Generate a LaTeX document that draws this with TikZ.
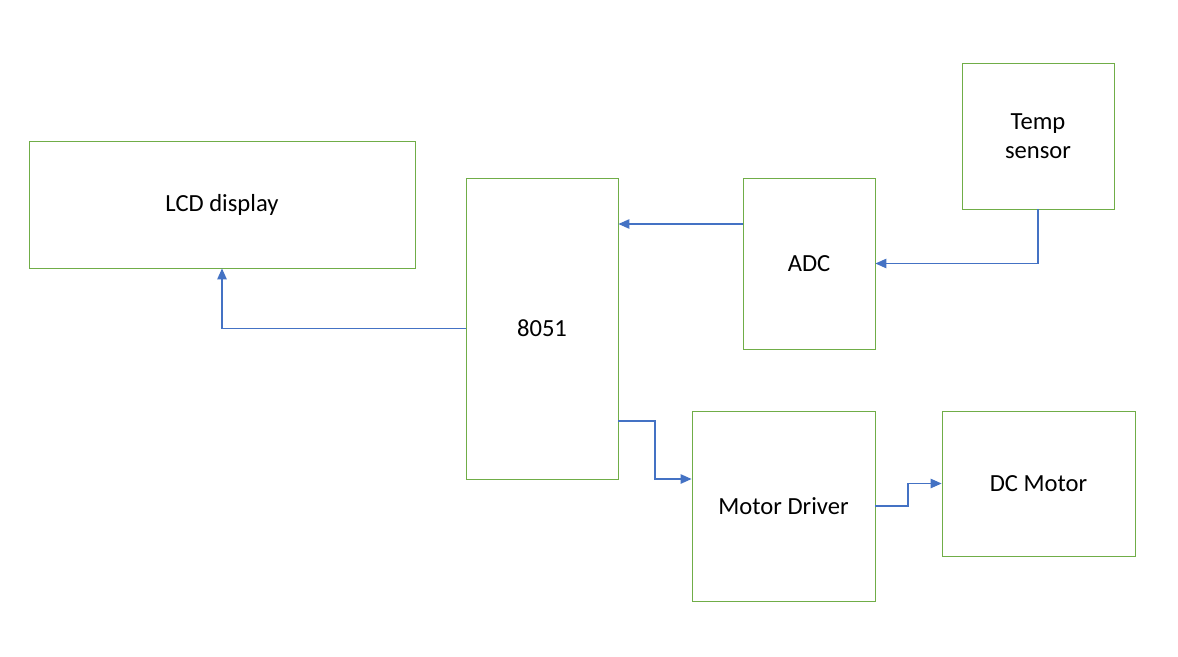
\documentclass[tikz,border=0pt]{standalone}
\usepackage{fontspec}
\setmainfont{Carlito}
\usetikzlibrary{arrows.meta,positioning,calc}
\definecolor{frame}{HTML}{70AD47}
\definecolor{wire}{HTML}{4472C4}
\definecolor{ink}{HTML}{000000}
\tikzset{
  blockbox/.style={draw=frame,fill=white,line width=0.5pt,align=center,font=\fontsize{14}{16.5}\selectfont,text=ink,inner sep=0pt},
  flow/.style={-{Triangle[length=2.2mm,width=1.9mm]},line width=0.7pt,draw=wire}
}

\begin{document}
\begin{tikzpicture}
    \useasboundingbox[fill=white] (0,0) rectangle (23.56,-13.14);

    \node[blockbox,minimum width=7.72cm,minimum height=2.54cm] (lcd) at (4.44,-4.09) {LCD display};
    \node[blockbox,minimum width=3.04cm,minimum height=6.02cm] (mcu) at (10.84,-6.57) {8051};
    \node[blockbox,minimum width=2.64cm,minimum height=3.42cm] (adc) at (16.18,-5.27) {ADC};
    \node[blockbox,minimum width=3.04cm,minimum height=2.92cm] (temp) at (20.76,-2.72) {Temp\\sensor};
    \node[blockbox,minimum width=3.66cm,minimum height=3.80cm] (drv) at (15.67,-10.12) {Motor Driver};
    \node[blockbox,minimum width=3.86cm,minimum height=2.90cm] (dcm) at (20.77,-9.67) {DC Motor};

    \draw[flow] (temp.south) |- (adc.east);
    \draw[flow] (adc.west |- 0,-4.48) -- (mcu.east |- 0,-4.48);
    \draw[flow] (mcu.west) -| (lcd.south);
    \draw[flow] (mcu.east |- 0,-8.42) -| (13.1,-9.58) -- (drv.west |- 0,-9.58);
    \draw[flow] (drv.east) -| (18.16,-9.67) -- (dcm.west);
\end{tikzpicture}
\end{document}
